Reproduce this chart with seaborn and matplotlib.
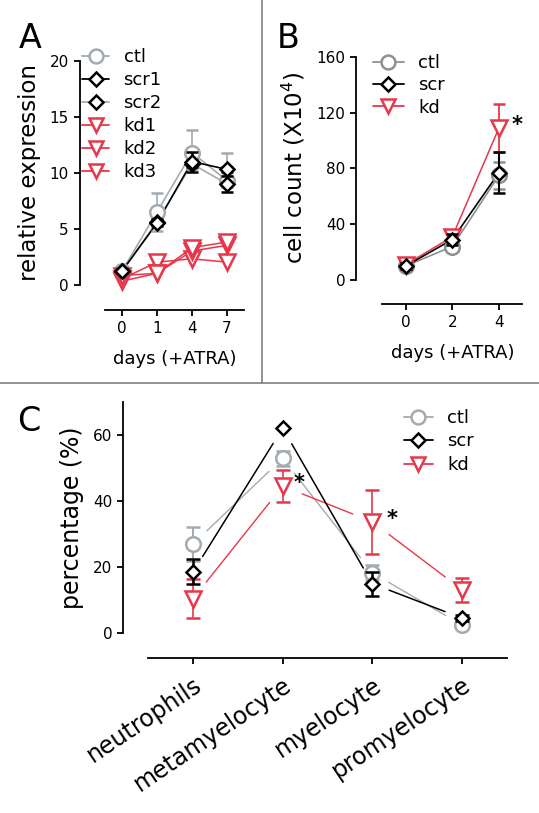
import numpy as np
import pandas as pd
import matplotlib
matplotlib.use("Agg")
import matplotlib.pyplot as plt
from matplotlib.lines import Line2D
import seaborn as sns

# ---- Panel A: relative expression vs days (+ATRA)
days_a = ["0", "1", "4", "7"]
ctl_a = [1.2, 6.5, 11.8, 9.3]
ctl_a_lo = [0.3, 1.7, 1.5, 0.6]
ctl_a_hi = [0.3, 1.7, 2.0, 2.5]
scr1_a = [1.2, 5.5, 11.0, 10.3]
scr1_a_err = [0.2, 0.3, 0.9, 0.2]
scr2_a = [1.2, 5.6, 10.8, 9.0]
scr2_a_err = [0.2, 0.3, 0.3, 0.7]
kd1_a = [0.5, 2.0, 2.3, 2.0]
kd2_a = [0.3, 1.0, 3.0, 3.5]
kd3_a = [0.8, 1.0, 3.3, 3.8]

# ---- Panel B: cell count (X10^4) vs days (+ATRA)
days_b = ["0", "2", "4"]
ctl_b = [10, 24, 75]
ctl_b_err = [2, 3, 9.5]
scr_b = [10, 29, 77]
scr_b_err = [2, 4, 15]
kd_b = [11, 31, 109]
kd_b_err = [3, 4, 17]

# ---- Panel C: percentage of each cell type
cells_c = ["neutrophils", "metamyelocyte", "myelocyte", "promyelocyte"]
ctl_c = [27, 52.9, 18.3, 2.5]
ctl_c_err = [5.2, 2.3, 2.3, 1.0]
scr_c = [18.6, 62, 15.0, 4.6]
scr_c_err = [3.8, 0, 3.6, 0.8]
kd_c = [10.5, 44.5, 33.7, 13.2]
kd_c_err = [6.0, 4.8, 9.6, 3.6]

GREY = "#a3abb1"
GREY_DARK = "#8a9290"
RED = "#e8374b"
MS = {"o": 10.5, "D": 7.6, "v": 11}

sns.set_style("ticks")
plt.rcParams["font.family"] = ["DejaVu Sans"]
for key in ["text.color", "axes.labelcolor", "xtick.color", "ytick.color", "axes.edgecolor"]:
    plt.rcParams[key] = "black"
plt.rcParams["axes.linewidth"] = 1.3
plt.rcParams["xtick.major.width"] = 1.3
plt.rcParams["ytick.major.width"] = 1.3
plt.rcParams["xtick.major.size"] = 4.5
plt.rcParams["ytick.major.size"] = 4.5
plt.rcParams["xtick.labelsize"] = 11
plt.rcParams["ytick.labelsize"] = 11

W, H = 539, 813
fig = plt.figure(figsize=(W / 100, H / 100), dpi=100)


def px_axes(left, top, right, bottom):
    return fig.add_axes([left / W, 1 - bottom / H, (right - left) / W, (bottom - top) / H])


def draw_series(ax, cats, name, vals, err, line_col, marker, edge, lw, elw, cap, z, line=True):
    if line:
        df = pd.DataFrame({"pos": np.arange(len(cats)), "value": vals, "series": name})
        sns.lineplot(data=df, x="pos", y="value", color=line_col, sort=False,
                     errorbar=None, linewidth=lw, ax=ax, zorder=2, clip_on=False)
    ax.errorbar(np.arange(len(cats)), vals, yerr=err, fmt=marker, ms=MS[marker],
                mfc="white", mec=edge, mew=1.8, ecolor=edge, elinewidth=elw,
                capsize=cap, capthick=elw, zorder=z, clip_on=False)


def gap_lines(ax, vals, color, lw, gap):
    # connecting segments that stop short of the markers (limits must be set)
    pts = ax.transData.transform(np.column_stack([np.arange(len(vals)), vals]))
    inv = ax.transData.inverted()
    for p0, p1 in zip(pts[:-1], pts[1:]):
        u = (p1 - p0) / np.hypot(*(p1 - p0))
        seg = inv.transform(np.array([p0 + u * gap, p1 - u * gap]))
        ax.plot(seg[:, 0], seg[:, 1], color=color, lw=lw, zorder=2)


def finish_axes(ax, cats, ylim, yticks, left_out, bottom_out):
    ax.set_xlim(-0.5, len(cats) - 0.5)
    ax.set_ylim(*ylim)
    ax.set_yticks(yticks)
    ax.set_xticks(np.arange(len(cats)))
    ax.set_xticklabels(cats)
    sns.despine(ax=ax)
    ax.spines["left"].set_position(("outward", left_out * 0.72))
    ax.spines["bottom"].set_position(("outward", bottom_out * 0.72))


def legend_handle(line_col, marker, edge):
    return Line2D([], [], color=line_col, lw=1.3, marker=marker, ms=MS[marker] * 0.95,
                  mfc="white", mec=edge, mew=1.8)


# ----- A
axA = px_axes(104.5, 61, 244.5, 284.5)
draw_series(axA, days_a, "ctl", ctl_a, [ctl_a_lo, ctl_a_hi], GREY, "o", GREY, 1.2, 1.2, 4, 3)
for nm, v in [("kd1", kd1_a), ("kd2", kd2_a), ("kd3", kd3_a)]:
    draw_series(axA, days_a, nm, v, None, RED, "v", RED, 1.1, 1.2, 4, 4)
draw_series(axA, days_a, "scr2", scr2_a, scr2_a_err, GREY, "D", "black", 1.2, 1.8, 4, 5)
draw_series(axA, days_a, "scr1", scr1_a, scr1_a_err, "black", "D", "black", 1.2, 1.8, 4, 6)
finish_axes(axA, days_a, (0, 20), [0, 5, 10, 15, 20], 24.5, 25)
axA.set_ylabel("relative expression", fontsize=16.5, labelpad=6)
axA.set_xlabel("days (+ATRA)", fontsize=13, labelpad=10)
hA = [legend_handle(GREY, "o", GREY), legend_handle("black", "D", "black"),
      legend_handle(GREY, "D", "black"), legend_handle(RED, "v", RED),
      legend_handle(RED, "v", RED), legend_handle(RED, "v", RED)]
axA.legend(hA, ["ctl", "scr1", "scr2", "kd1", "kd2", "kd3"], loc="upper left",
           bbox_to_anchor=(82 / W, 1 - 48 / H), bbox_transform=fig.transFigure,
           frameon=False, fontsize=13, handlelength=1.5, handletextpad=0.8,
           labelspacing=0.28, borderpad=0, borderaxespad=0)

# ----- B
axB = px_axes(382.3, 56.7, 522.3, 280)
draw_series(axB, days_b, "ctl", ctl_b, ctl_b_err, GREY_DARK, "o", GREY_DARK, 1.2, 1.3, 4.5, 3)
draw_series(axB, days_b, "kd", kd_b, kd_b_err, RED, "v", RED, 1.1, 1.3, 4.5, 4)
draw_series(axB, days_b, "scr", scr_b, scr_b_err, "black", "D", "black", 1.2, 1.5, 4.5, 5)
finish_axes(axB, days_b, (0, 160), [0, 40, 80, 120, 160], 26, 24)
axB.set_ylabel("cell count (X10$^4$)", fontsize=16.5, labelpad=6)
axB.set_xlabel("days (+ATRA)", fontsize=13, labelpad=10)
axB.annotate("*", (2, kd_b[2]), xytext=(13, 2), textcoords="offset points",
             fontsize=15, fontweight="bold", ha="center", va="center")
hB = [legend_handle(GREY_DARK, "o", GREY_DARK), legend_handle("black", "D", "black"),
      legend_handle(RED, "v", RED)]
axB.legend(hB, ["ctl", "scr", "kd"], loc="upper left",
           bbox_to_anchor=(373 / W, 1 - 54 / H), bbox_transform=fig.transFigure,
           frameon=False, fontsize=13, handlelength=1.7, handletextpad=0.8,
           labelspacing=0.24, borderpad=0, borderaxespad=0)

# ----- C
axC = px_axes(148.3, 401.7, 506.7, 633.3)
draw_series(axC, cells_c, "ctl", ctl_c, ctl_c_err, GREY, "o", GREY, 1.0, 1.4, 5, 3, line=False)
draw_series(axC, cells_c, "kd", kd_c, kd_c_err, RED, "v", RED, 1.0, 1.2, 5, 4, line=False)
draw_series(axC, cells_c, "scr", scr_c, scr_c_err, "black", "D", "black", 1.0, 1.8, 5, 5, line=False)
finish_axes(axC, cells_c, (0, 70), [0, 20, 40, 60], 25, 25)
gap_lines(axC, ctl_c, GREY, 1.0, 19)
gap_lines(axC, kd_c, RED, 1.0, 21)
gap_lines(axC, scr_c, "black", 1.1, 18)
axC.set_ylabel("percentage (%)", fontsize=17, labelpad=6)
axC.tick_params(axis="x", labelsize=17, pad=6)
for lab in axC.get_xticklabels():
    lab.set_rotation(34)
    lab.set_ha("right")
    lab.set_va("top")
    lab.set_rotation_mode("anchor")
for i in [1, 2]:
    axC.annotate("*", (i, kd_c[i]), xytext=(12 + 2 * (i - 1), 2), textcoords="offset points",
                 fontsize=15, fontweight="bold", ha="center", va="center", zorder=6)
hC = [legend_handle(GREY, "o", GREY), legend_handle("black", "D", "black"),
      legend_handle(RED, "v", RED)]
axC.legend(hC, ["ctl", "scr", "kd"], loc="upper left",
           bbox_to_anchor=(404 / W, 1 - 409 / H), bbox_transform=fig.transFigure,
           frameon=False, fontsize=13, handlelength=1.6, handletextpad=0.8,
           labelspacing=0.3, borderpad=0, borderaxespad=0)

# panel letters and dividers
for letter, x, y in [("A", 19, 48), ("B", 277, 48), ("C", 17, 431)]:
    fig.text(x / W, 1 - y / H, letter, fontsize=24, va="baseline", ha="left")
fig.add_artist(Line2D([262 / W, 262 / W], [1, 1 - 383 / H], color="#777777", lw=1.1))
fig.add_artist(Line2D([0, 1], [1 - 383 / H, 1 - 383 / H], color="#777777", lw=1.1))

fig.savefig("out.png", dpi=100)
